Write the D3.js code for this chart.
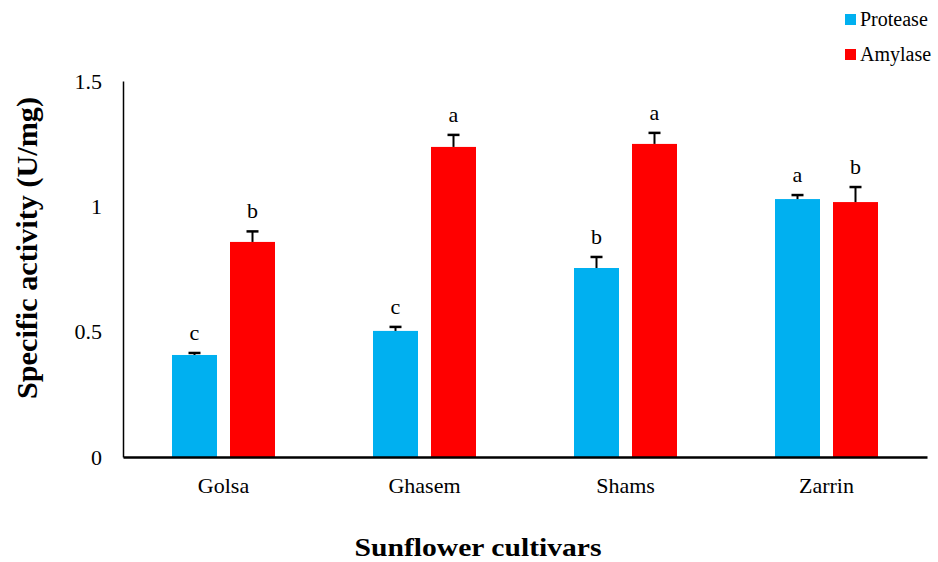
<!DOCTYPE html>
<html><head><meta charset="utf-8">
<script src="https://cdn.jsdelivr.net/npm/d3@7"></script>
<style>body{margin:0;background:#fff;} svg{display:block;} text{font-family:"Liberation Serif","Times New Roman",serif !important;}</style>
</head><body>
<svg id="c" width="938" height="562"></svg>
<script>
const categories = ["Golsa","Ghasem","Shams","Zarrin"];
const seriesNames = ["Protease","Amylase"];
const protease = [0.407, 0.503, 0.754, 1.029];
const amylase = [0.858, 1.237, 1.249, 1.017];
const proteaseErr = [0.008, 0.016, 0.044, 0.016];
const amylaseErr = [0.042, 0.048, 0.044, 0.06];
const proteaseLetters = ["c","c","b","a"];
const amylaseLetters = ["b","a","a","b"];
const yTicks = [0, 0.5, 1, 1.5];
const colors = ["#00B0F0","#FF0000"];

const svg = d3.select("#c");
const m = {left:123, right:927, top:81, bottom:457};
const x = d3.scaleBand().domain(categories).range([m.left, m.right]);
const y = d3.scaleLinear().domain([0,1.5]).range([m.bottom, m.top]);
const barW = 45, gap = 13;

const series = [
  {name: seriesNames[0], vals: protease, err: proteaseErr, letters: proteaseLetters, color: colors[0]},
  {name: seriesNames[1], vals: amylase, err: amylaseErr, letters: amylaseLetters, color: colors[1]}
];

series.forEach((s, si) => {
  const off = si === 0 ? -(gap/2 + barW) : gap/2;
  const g = svg.append("g");
  categories.forEach((c, i) => {
    const x0 = x(c) + x.bandwidth()/2 + off;
    const cx = x0 + barW/2;
    g.append("rect").attr("x", x0).attr("y", y(s.vals[i])).attr("width", barW)
      .attr("height", y(0) - y(s.vals[i])).attr("fill", s.color);
    const top = y(s.vals[i] + s.err[i]);
    g.append("line").attr("x1", cx).attr("x2", cx).attr("y1", y(s.vals[i])).attr("y2", top)
      .attr("stroke", "#000").attr("stroke-width", 2);
    g.append("line").attr("x1", cx-6).attr("x2", cx+6).attr("y1", top).attr("y2", top)
      .attr("stroke", "#000").attr("stroke-width", 2.5);
    g.append("text").attr("x", cx).attr("y", top - 13).attr("text-anchor", "middle")
      .attr("font-size", 22).attr("fill", "#000").text(s.letters[i]);
  });
});

// Y axis
const yAxis = d3.axisLeft(y).tickValues(yTicks).tickSize(0).tickPadding(21)
  .tickFormat(d => d === 0 ? "0" : String(d));
const ya = svg.append("g").attr("transform", `translate(${m.left},0)`).call(yAxis);
ya.select(".domain").attr("stroke", "#000").attr("stroke-width", 1.5);
ya.selectAll("text").attr("font-size", 22).attr("fill", "#000");

// X axis
const xAxis = d3.axisBottom(x).tickSize(0).tickPadding(20);
const xa = svg.append("g").attr("transform", `translate(0,${m.bottom})`).call(xAxis);
xa.select(".domain").attr("stroke", "#000").attr("stroke-width", 2.5);
xa.selectAll("text").attr("font-size", 22).attr("fill", "#000").attr("dy", null).attr("y", 36);

// Axis titles
svg.append("text").attr("x", 478).attr("y", 556)
  .attr("text-anchor", "middle").attr("font-weight", "bold").attr("font-size", 25)
  .attr("textLength", 247).attr("lengthAdjust", "spacingAndGlyphs")
  .text("Sunflower cultivars");
svg.append("text").attr("transform", "translate(37,248) rotate(-90)")
  .attr("text-anchor", "middle").attr("font-weight", "bold").attr("font-size", 30)
  .attr("textLength", 302).attr("lengthAdjust", "spacingAndGlyphs")
  .text("Specific activity (U/mg)");

// Legend
const lg = svg.append("g");
seriesNames.forEach((n, i) => {
  const yy = 14 + i*35;
  lg.append("rect").attr("x", 845).attr("y", yy).attr("width", 11).attr("height", 11).attr("fill", colors[i]);
  lg.append("text").attr("x", 860).attr("y", yy + 12).attr("font-size", 20).text(n);
});
</script>
</body></html>
